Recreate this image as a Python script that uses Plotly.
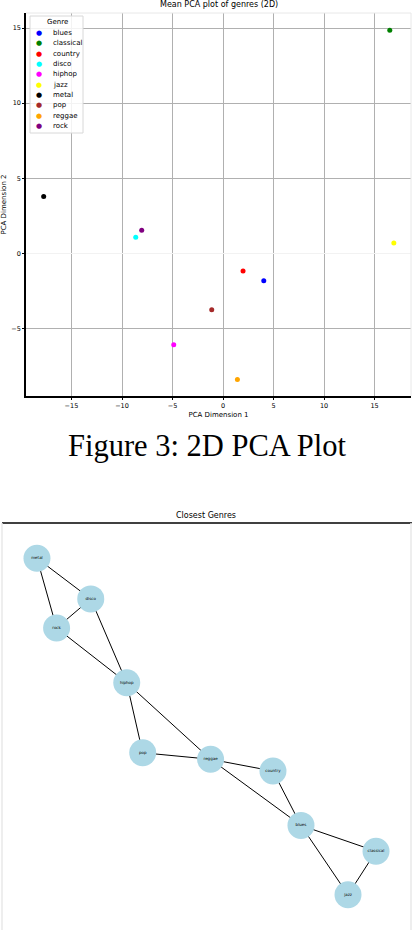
import plotly.graph_objects as go

# mean PCA coordinates per genre
genres = ["blues", "classical", "country", "disco", "hiphop", "jazz", "metal", "pop", "reggae", "rock"]
pca_x = [4.03, 16.5, 1.98, -8.64, -4.88, 16.9, -17.75, -1.12, 1.42, -8.05]
pca_y = [-1.82, 14.85, -1.18, 1.07, -6.09, 0.69, 3.78, -3.75, -8.4, 1.53]
genre_colors = ["blue", "green", "red", "cyan", "magenta", "yellow", "black", "brown", "orange", "purple"]

# closest-genre graph: node layout positions and edges
node_names = ["metal", "disco", "rock", "hiphop", "pop", "reggae", "country", "blues", "classical", "jazz"]
node_x = [-0.829, -0.566, -0.733, -0.390, -0.312, 0.020, 0.325, 0.462, 0.829, 0.692]
node_y = [0.827, 0.627, 0.484, 0.215, -0.129, -0.161, -0.219, -0.486, -0.613, -0.827]
edges = [
    ("metal", "disco"), ("metal", "rock"), ("disco", "rock"),
    ("disco", "hiphop"), ("rock", "hiphop"), ("hiphop", "pop"),
    ("hiphop", "reggae"), ("pop", "reggae"), ("reggae", "country"),
    ("reggae", "blues"), ("country", "blues"), ("blues", "classical"),
    ("blues", "jazz"), ("classical", "jazz"),
]

W, H = 412, 930
FONT = "DejaVu Sans"


def px(x):
    return x / W


def py(y):
    return 1 - y / H


fig = go.Figure()

# --- PCA scatter ---
for g, x, y, c in zip(genres, pca_x, pca_y, genre_colors):
    fig.add_trace(go.Scatter(
        x=[x], y=[y], mode="markers", name=g,
        marker=dict(color=c, size=5),
        xaxis="x", yaxis="y", showlegend=False,
    ))

# --- network ---
pos = {n: (x, y) for n, x, y in zip(node_names, node_x, node_y)}
ex, ey = [], []
for a, b in edges:
    ex += [pos[a][0], pos[b][0], None]
    ey += [pos[a][1], pos[b][1], None]
fig.add_trace(go.Scatter(
    x=ex, y=ey, mode="lines", line=dict(color="black", width=1),
    showlegend=False, hoverinfo="skip", xaxis="x2", yaxis="y2",
))
fig.add_trace(go.Scatter(
    x=node_x, y=node_y, mode="markers+text", text=node_names,
    textposition="middle center", textfont=dict(size=4, color="black", family=FONT),
    marker=dict(size=27, color="lightblue"),
    showlegend=False, xaxis="x2", yaxis="y2",
))

grid = "#b0b0b0"
tickfont = dict(size=6.5, family=FONT, color="black")

fig.update_layout(
    template="none",
    width=W, height=H,
    margin=dict(l=0, r=0, t=0, b=0),
    paper_bgcolor="white", plot_bgcolor="white",
    font=dict(family=FONT, color="black"),
    showlegend=False,
    xaxis=dict(
        domain=[px(26), px(411)], range=[-19.5, 18.6],
        tickvals=[-15, -10, -5, 0, 5, 10, 15],
        showgrid=True, gridcolor=grid, gridwidth=1,
        zeroline=True, zerolinecolor=grid, zerolinewidth=1,
        showline=True, linecolor="black", linewidth=1.5,
        ticks="outside", ticklen=2, tickcolor="black",
        tickfont=tickfont, automargin=False,
        title=dict(text="PCA Dimension 1", font=dict(size=7, family=FONT), standoff=4),
        anchor="y",
    ),
    yaxis=dict(
        domain=[py(396), py(13)], range=[-9.5, 16.0],
        tickvals=[-5, 0, 5, 10, 15],
        showgrid=True, gridcolor=grid, gridwidth=1,
        zeroline=True, zerolinecolor="#f2f2f2", zerolinewidth=1,
        showline=True, linecolor="black", linewidth=1.5,
        ticks="outside", ticklen=2, tickcolor="black",
        tickfont=tickfont, automargin=False,
        title=dict(text="PCA Dimension 2", font=dict(size=7, family=FONT), standoff=4),
        anchor="x",
    ),
    xaxis2=dict(
        domain=[px(2), px(411)], range=[-1, 1], automargin=False,
        showgrid=False, zeroline=False, showticklabels=False, showline=False,
        ticks="", anchor="y2",
    ),
    yaxis2=dict(
        domain=[0, py(523)], range=[-1, 1], automargin=False,
        showgrid=False, zeroline=False, showticklabels=False, showline=False,
        ticks="", anchor="x2",
    ),
)

# frame lines: light top/right on the PCA axes, black top and light sides on the graph
light = "#e8e8e8"
fig.add_shape(type="line", xref="paper", yref="paper",
              x0=px(26), x1=px(411), y0=py(13), y1=py(13), line=dict(color=light, width=1))
fig.add_shape(type="line", xref="paper", yref="paper",
              x0=px(411), x1=px(411), y0=py(396), y1=py(13), line=dict(color=light, width=1))
fig.add_shape(type="line", xref="paper", yref="paper",
              x0=px(2), x1=1, y0=py(523), y1=py(523), line=dict(color="black", width=1.5))
fig.add_shape(type="line", xref="paper", yref="paper",
              x0=px(2), x1=px(2), y0=0, y1=py(523), line=dict(color=light, width=1.5))
fig.add_shape(type="line", xref="paper", yref="paper",
              x0=px(411), x1=px(411), y0=0, y1=py(523), line=dict(color=light, width=1.5))

# compact legend (matplotlib style)
fig.add_shape(type="rect", xref="paper", yref="paper",
              x0=px(30), x1=px(83), y0=py(133), y1=py(16),
              line=dict(color="#d8d8d8", width=1), fillcolor="rgba(255,255,255,0.85)")
fig.add_annotation(text="Genre", xref="paper", yref="paper", x=px(57), y=py(22.5),
                   showarrow=False, font=dict(size=7, family=FONT),
                   xanchor="center", yanchor="middle")
for i, (g, c) in enumerate(zip(genres, genre_colors)):
    yy = 33 + i * 10.35
    fig.add_annotation(text="●", xref="paper", yref="paper", x=px(39), y=py(yy),
                       showarrow=False, font=dict(size=7, color=c, family=FONT),
                       xanchor="center", yanchor="middle")
    fig.add_annotation(text=g, xref="paper", yref="paper", x=px(51), y=py(yy),
                       showarrow=False, font=dict(size=7, family=FONT),
                       xanchor="left", yanchor="middle")

# titles and caption
fig.add_annotation(text="Mean PCA plot of genres (2D)", xref="paper", yref="paper",
                   x=px(218.5), y=py(5), showarrow=False,
                   font=dict(size=8, family=FONT), xanchor="center", yanchor="middle")
fig.add_annotation(text="Figure 3: 2D PCA Plot", xref="paper", yref="paper",
                   x=px(207), y=py(446), showarrow=False,
                   font=dict(size=30.5, family="Liberation Serif", color="black"),
                   xanchor="center", yanchor="middle")
fig.add_annotation(text="Closest Genres", xref="paper", yref="paper",
                   x=px(206), y=py(515), showarrow=False,
                   font=dict(size=8, family=FONT), xanchor="center", yanchor="middle")

# drop the default page margin so the figure sits at the top-left corner
fig.write_html("out.html", config={"displayModeBar": False},
               post_script="document.body.style.margin='0';")
